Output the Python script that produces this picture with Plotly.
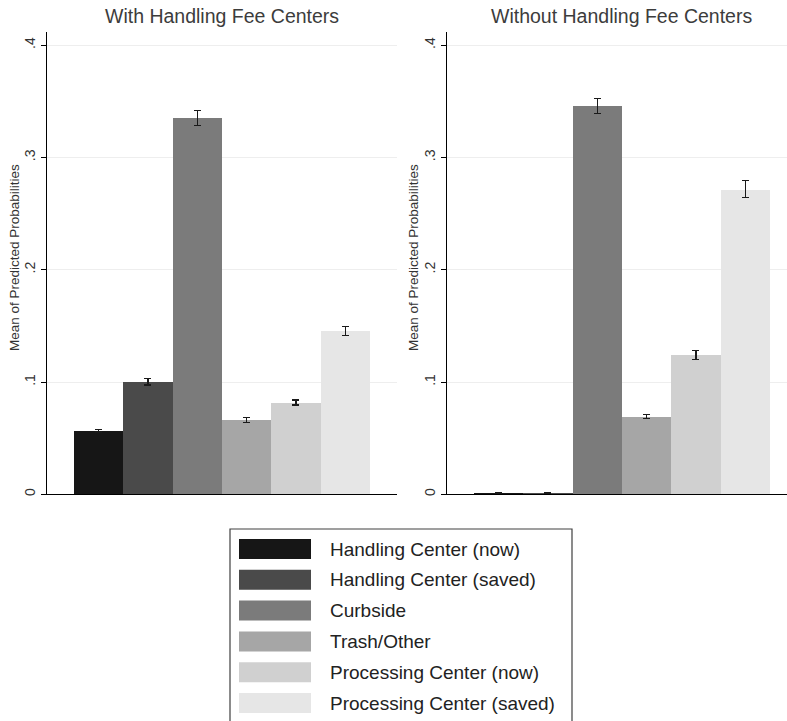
import plotly.graph_objects as go

categories = ["Handling Center (now)", "Handling Center (saved)", "Curbside",
              "Trash/Other", "Processing Center (now)", "Processing Center (saved)"]
colors = ["#161616", "#4a4a4a", "#7b7b7b", "#a6a6a6", "#d0d0d0", "#e6e6e6"]

with_vals = [0.0565, 0.1003, 0.3350, 0.0663, 0.0818, 0.1455]
with_err = [0.0010, 0.0030, 0.0065, 0.0022, 0.0022, 0.0040]
without_vals = [0.0008, 0.0008, 0.3458, 0.0693, 0.1244, 0.2717]
without_err = [0.0003, 0.0003, 0.0070, 0.0020, 0.0040, 0.0075]

panel_titles = ["With Handling Fee Centers", "Without Handling Fee Centers"]
ytitle = "Mean of Predicted Probabilities"
tickvals = [0, 0.1, 0.2, 0.3, 0.4]
ticktext = ["0", ".1", ".2", ".3", ".4"]

W, H = 787, 721
FONT = "Liberation Sans, Arial, sans-serif"

def px_x(p):
    return p / W

def px_y(p):
    return 1 - p / H

fig = go.Figure()
xpos = list(range(1, len(categories) + 1))
for k, (vals, errs) in enumerate([(with_vals, with_err), (without_vals, without_err)]):
    for i, name in enumerate(categories):
        fig.add_trace(go.Bar(
            x=[xpos[i]], y=[vals[i]], width=1.0,
            marker=dict(color=colors[i], line=dict(width=0)),
            error_y=dict(type="data", array=[errs[i]], visible=True,
                         color="#1a1a1a", thickness=1.2, width=3.5),
            name=name, showlegend=False,
            xaxis="x" if k == 0 else "x2", yaxis="y" if k == 0 else "y2",
        ))

ydom = [px_y(494.3), px_y(31.7)]
common_y = dict(range=[0, 0.412], domain=ydom, tickvals=tickvals, ticktext=ticktext,
                tickangle=-90, ticks="outside", ticklen=5, tickcolor="#000000",
                showline=True, linecolor="#000000", linewidth=1.2,
                showgrid=True, gridcolor="#eeeeee", gridwidth=1, zeroline=False,
                tickfont=dict(family=FONT, size=14, color="#333333"), automargin=False)
common_x = dict(showticklabels=False, ticks="", showgrid=False, zeroline=False,
                showline=True, linecolor="#000000", linewidth=1.2, automargin=False)

fig.update_layout(
    width=W, height=H, margin=dict(l=0, r=0, t=0, b=0),
    paper_bgcolor="white", plot_bgcolor="white", barmode="overlay", bargap=0,
    font=dict(family=FONT),
    xaxis=dict(domain=[px_x(47), px_x(397)], range=[-0.047, 7.048], **common_x),
    yaxis=dict(anchor="x", **common_y),
    xaxis2=dict(domain=[px_x(447), 1.0], range=[-0.047, 6.845], anchor="y2", **common_x),
    yaxis2=dict(anchor="x2", **common_y),
)

# panel titles and y-axis titles
centers = [222, 621.5]
ytitle_x = [14, 413]
for k in range(2):
    fig.add_annotation(text=panel_titles[k], xref="paper", yref="paper",
                       x=px_x(centers[k]), y=px_y(16), showarrow=False,
                       xanchor="center", yanchor="middle",
                       font=dict(family=FONT, size=19.5, color="#3c3c3c"))
    fig.add_annotation(text=ytitle, xref="paper", yref="paper",
                       x=px_x(ytitle_x[k]), y=px_y(258), showarrow=False, textangle=-90,
                       xanchor="center", yanchor="middle",
                       font=dict(family=FONT, size=13.5, color="#333333"))

# legend box
fig.add_shape(type="rect", xref="paper", yref="paper",
              x0=px_x(230), x1=px_x(572), y0=-0.05, y1=px_y(529),
              line=dict(color="#404040", width=1.2), fillcolor="white", layer="above")
for i, name in enumerate(categories):
    yc = 549 + 30.8 * i
    fig.add_shape(type="rect", xref="paper", yref="paper",
                  x0=px_x(239), x1=px_x(311), y0=px_y(yc + 10), y1=px_y(yc - 10),
                  line=dict(width=0), fillcolor=colors[i], layer="above")
    fig.add_annotation(text=name, xref="paper", yref="paper",
                       x=px_x(328), y=px_y(yc), showarrow=False,
                       xanchor="left", yanchor="middle",
                       font=dict(family=FONT, size=19, color="#222222"))

fig.write_html("out.html", config={"displayModeBar": False},
               post_script="document.body.style.margin='0px';document.body.style.overflow='hidden';")
